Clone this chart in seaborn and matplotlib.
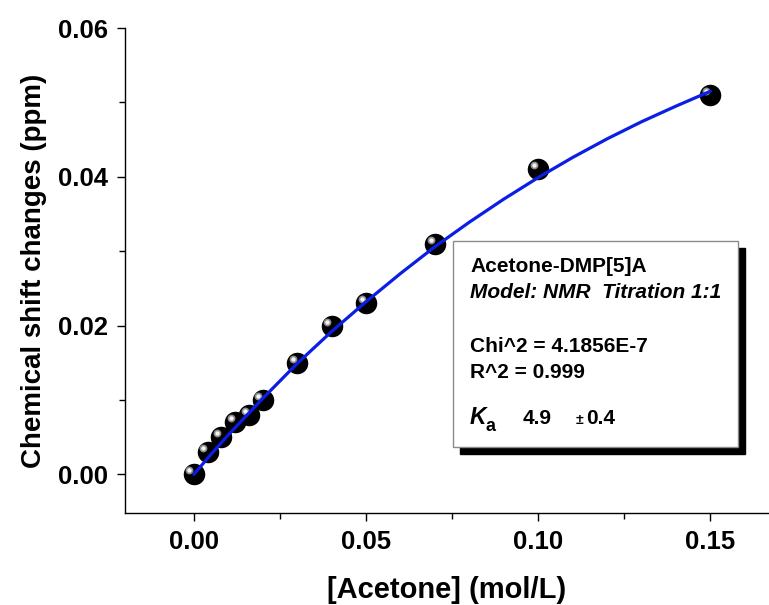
import numpy as np
import pandas as pd
import matplotlib
matplotlib.use("Agg")
import matplotlib.pyplot as plt
import matplotlib.transforms as mtransforms
from matplotlib.patches import Rectangle
from matplotlib.ticker import MultipleLocator, FormatStrFormatter
import seaborn as sns

# ---- data ----
acetone = [0.0, 0.004, 0.008, 0.012, 0.016, 0.020, 0.030, 0.040, 0.050, 0.070, 0.100, 0.150]
shift = [0.0, 0.003, 0.005, 0.007, 0.008, 0.010, 0.015, 0.020, 0.023, 0.031, 0.041, 0.051]

fit_x = [0.0, 0.005, 0.01, 0.02, 0.03, 0.04, 0.05, 0.06, 0.07, 0.08, 0.09, 0.10, 0.11, 0.12, 0.13, 0.14, 0.15]
fit_y = [0.0, 0.0027, 0.0053, 0.0102, 0.0149, 0.0192, 0.0232, 0.0270, 0.0306, 0.0339, 0.0370,
         0.0399, 0.0426, 0.0451, 0.0474, 0.0495, 0.0515]

x_ticks = [0.00, 0.05, 0.10, 0.15]
y_ticks = [0.00, 0.02, 0.04, 0.06]

box_lines = ["Acetone-DMP[5]A", "Model: NMR  Titration 1:1", "Chi^2 = 4.1856E-7", "R^2 = 0.999"]
ka_value = "4.9"
ka_err = "\u00b10.4"

sns.set_theme(style="ticks")
plt.rcParams['font.family'] = ['Liberation Sans', 'DejaVu Sans']
plt.rcParams['text.color'] = 'black'
plt.rcParams['axes.labelcolor'] = 'black'
plt.rcParams['xtick.color'] = 'black'
plt.rcParams['ytick.color'] = 'black'

W, H = 769, 605
fig = plt.figure(figsize=(W / 100, H / 100), dpi=100)
ax = fig.add_axes([125 / W, 1 - 513 / H, 1 - 125 / W, (513 - 28) / H])

pts = pd.DataFrame({"x": acetone, "y": shift})
fit = pd.DataFrame({"x": fit_x, "y": fit_y})

# black balls
sns.scatterplot(data=pts, x="x", y="y", ax=ax, s=240, color="black", edgecolor="black",
                linewidth=0, zorder=3, legend=False)
# highlights (offset up-left)
hl_tr = mtransforms.offset_copy(ax.transData, fig=fig, x=-3.2, y=2.8, units="points")
ax.scatter(acetone, shift, s=32, color="#8c8c8c", linewidth=0, zorder=4, transform=hl_tr)
ax.scatter(acetone, shift, s=10, color="#f4f4f4", linewidth=0, zorder=5, transform=hl_tr)

# fitted curve
sns.lineplot(data=fit, x="x", y="y", ax=ax, color="#0a1ee6", linewidth=2.3, zorder=6,
             legend=False)

ax.set_xlim(-0.02, 0.167)
ax.set_ylim(-0.0052, 0.06)
ax.set_xticks(x_ticks)
ax.set_yticks(y_ticks)
ax.xaxis.set_minor_locator(MultipleLocator(0.025))
ax.yaxis.set_minor_locator(MultipleLocator(0.01))
ax.xaxis.set_major_formatter(FormatStrFormatter("%.2f"))
ax.yaxis.set_major_formatter(FormatStrFormatter("%.2f"))
ax.tick_params(which="major", direction="out", length=6, width=1.0, color="black",
               labelsize=18.5, pad=6)
ax.tick_params(which="minor", direction="out", length=4, width=1.0, color="black")
for lab in ax.get_xticklabels() + ax.get_yticklabels():
    lab.set_fontweight("bold")

sns.despine(ax=ax)
for sp in ["left", "bottom"]:
    ax.spines[sp].set_color("black")
    ax.spines[sp].set_linewidth(1.0)
ax.set_facecolor("white")

ax.set_xlabel("[Acetone] (mol/L)", fontsize=21, fontweight="bold", labelpad=16)
ax.set_ylabel("Chemical shift changes (ppm)", fontsize=20, fontweight="bold", labelpad=8)

# ---- annotation box with shadow ----
def fx(px):
    return px / W

def fy(py):
    return 1 - py / H

bl, bt, br, bb = 453, 241, 738, 447
off = 7
shadow = Rectangle((fx(bl + off), fy(bb + off)), fx(br - bl), (bb - bt) / H,
                   transform=fig.transFigure, facecolor="black", edgecolor="black", zorder=10)
box = Rectangle((fx(bl), fy(bb)), fx(br - bl), (bb - bt) / H,
                transform=fig.transFigure, facecolor="white", edgecolor="#8a8a8a",
                linewidth=1.0, zorder=11)
fig.patches.extend([shadow, box])

tx = fx(470)
fs = 15
fig.text(tx, fy(272), box_lines[0], fontsize=fs, fontweight="bold", va="baseline", zorder=12)
fig.text(tx, fy(298), box_lines[1], fontsize=fs, fontweight="bold", style="italic",
         va="baseline", zorder=12)
fig.text(tx, fy(352), box_lines[2], fontsize=fs, fontweight="bold", va="baseline", zorder=12)
fig.text(tx, fy(378), box_lines[3], fontsize=fs, fontweight="bold", va="baseline", zorder=12)
fig.text(tx, fy(424), "K", fontsize=16.5, fontweight="bold", style="italic", va="baseline",
         zorder=12)
fig.text(fx(486), fy(431), "a", fontsize=13, fontweight="bold", va="baseline", zorder=12)
fig.text(fx(523), fy(424), ka_value, fontsize=fs, fontweight="bold", va="baseline", zorder=12)
fig.text(fx(576), fy(424), ka_err[0], fontsize=10, fontweight="bold", va="baseline", zorder=12)
fig.text(fx(586), fy(424), ka_err[1:], fontsize=fs, fontweight="bold", va="baseline", zorder=12)

fig.savefig("out.png", dpi=100, facecolor="white")
